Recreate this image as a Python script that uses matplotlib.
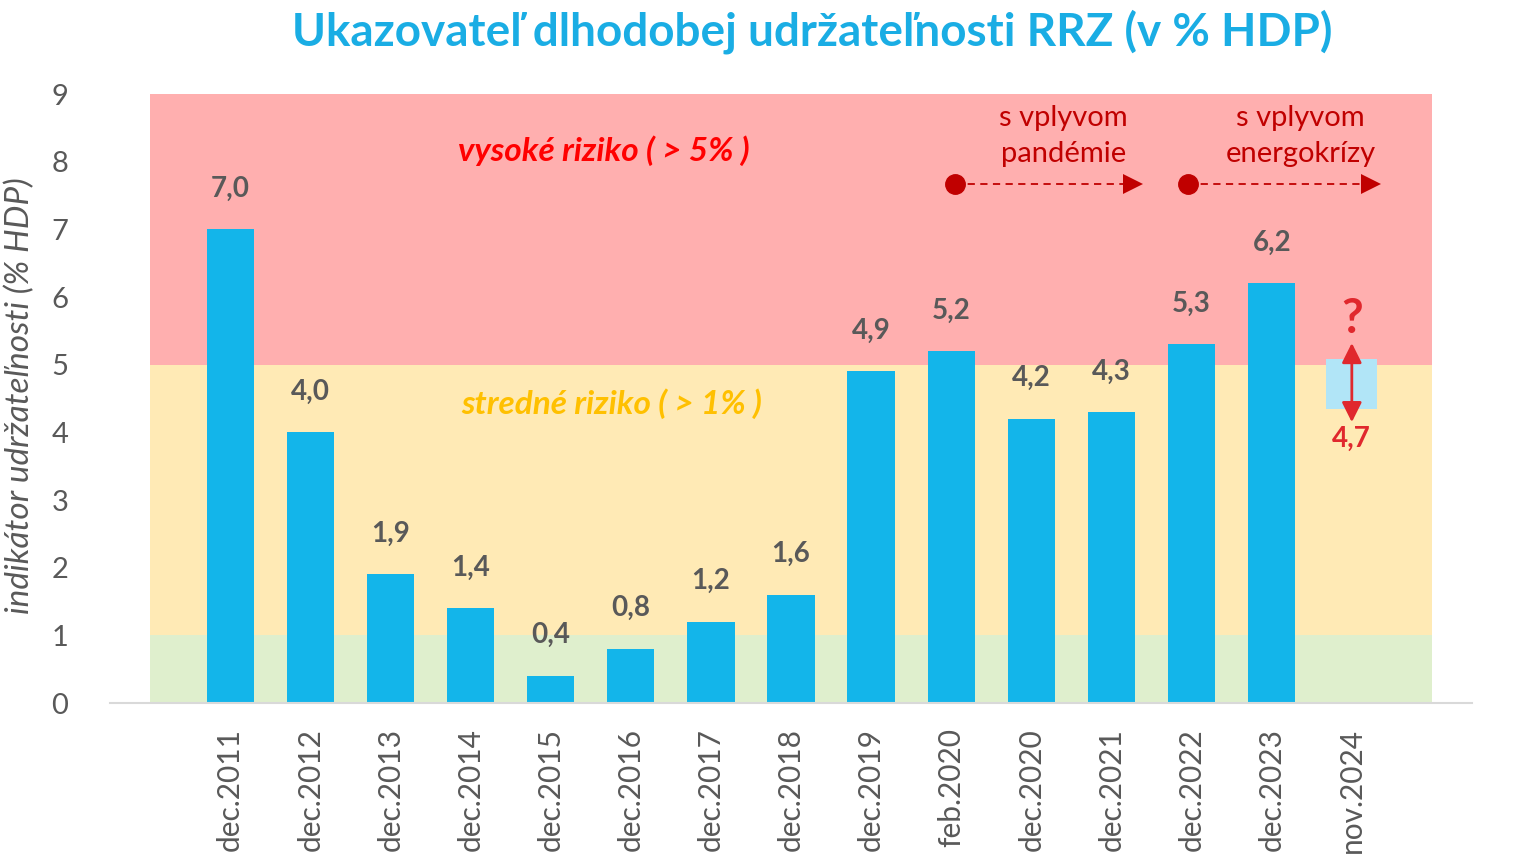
import numpy as np
import matplotlib.pyplot as plt

plt.rcParams['font.family'] = ['Lato', 'DejaVu Sans']

# data
categories = ["dec.2011", "dec.2012", "dec.2013", "dec.2014", "dec.2015", "dec.2016",
              "dec.2017", "dec.2018", "dec.2019", "feb.2020", "dec.2020", "dec.2021",
              "dec.2022", "dec.2023", "nov.2024"]
values = [7.0, 4.0, 1.9, 1.4, 0.4, 0.8, 1.2, 1.6, 4.9, 5.2, 4.2, 4.3, 5.3, 6.2]
value_labels = ["7,0", "4,0", "1,9", "1,4", "0,4", "0,8", "1,2", "1,6", "4,9",
                "5,2", "4,2", "4,3", "5,3", "6,2"]
estimate_range = (4.35, 5.08)   # nov.2024 - range of estimate
estimate_label = "4,7"
bands = [(0, 1, "#dfefcd"), (1, 5, "#ffeab5"), (5, 9, "#ffafaf")]

BAR = "#13b5ea"
GRAY = "#595959"
DARKRED = "#c00000"
RED2 = "#e0282d"

fig = plt.figure(figsize=(15.19, 8.57), dpi=100, facecolor="white")
ax = fig.add_axes([110 / 1519, 1 - 703 / 857, 1362 / 1519, 609 / 857])

x = np.arange(len(categories))
n = len(categories)

# risk bands
for lo, hi, c in bands:
    ax.fill_between([-1, n], lo, hi, color=c, lw=0, zorder=0)

ax.bar(x[:len(values)], values, width=0.59, color=BAR, zorder=2)
for xi, v, lab in zip(x, values, value_labels):
    ax.text(xi, v + 0.6, lab, ha="center", va="center", fontsize=20,
            fontweight="bold", color=GRAY, zorder=3)

# last point: estimate box with double arrow
xl = x[-1]
ax.bar(xl, estimate_range[1] - estimate_range[0], bottom=estimate_range[0],
       width=0.64, color="#b1e5f7", zorder=2)
ax.annotate("", xy=(xl, 4.15), xytext=(xl, 5.32),
            arrowprops=dict(arrowstyle="<|-|>", color=RED2, lw=2,
                            mutation_scale=30, shrinkA=0, shrinkB=0), zorder=4)
ax.text(xl, 5.68, "?", ha="center", va="center", fontsize=34, fontweight="bold",
        color=RED2, zorder=4)
ax.text(xl, 3.9, estimate_label, ha="center", va="center", fontsize=20,
        fontweight="bold", color=RED2, zorder=4)

# band labels
ax.text(4.66, 8.16, "vysoké riziko ( > 5% )", ha="center", va="center",
        fontsize=24, fontweight="bold", fontstyle="italic", color="#ff0000")
ax.text(4.76, 4.42, "stredné riziko ( > 1% )", ha="center", va="center",
        fontsize=24, fontweight="bold", fontstyle="italic", color="#ffc000")

# event annotations: dot, dashed line, solid triangle head
for x0, x1, xt, txt in [(9.05, 11.39, 10.40, "s vplyvom\npandémie"),
                        (11.96, 14.36, 13.36, "s vplyvom\nenergokrízy")]:
    ax.plot([x0, x1 - 0.2], [7.67, 7.67], color=DARKRED, lw=1.3,
            linestyle=(0, (4, 3)), zorder=4)
    ax.plot([x0], [7.67], "o", color=DARKRED, ms=14, zorder=4)
    ax.plot([x1 - 0.125], [7.67], ">", color=DARKRED, ms=15, mew=0, zorder=4)
    ax.text(xt, 8.38, txt, ha="center", va="center", fontsize=21,
            color=DARKRED, linespacing=1.5)

ax.set_xlim(-1.5, n + 0.5)
ax.set_ylim(0, 9)
ax.set_yticks(range(10))
ax.set_xticks(x)
ax.set_xticklabels(categories, rotation=90, fontsize=21.5, color=GRAY)
ax.tick_params(axis="x", length=0, pad=18)
ax.tick_params(axis="y", length=0, pad=30, labelsize=21, labelcolor=GRAY)
for s in ["top", "left", "right"]:
    ax.spines[s].set_visible(False)
ax.spines["bottom"].set_color("#d9d9d9")
ax.spines["bottom"].set_linewidth(1.5)
ax.set_ylabel("indikátor udržateľnosti (% HDP)", fontsize=24, fontstyle="italic",
              color=GRAY)
ax.yaxis.set_label_coords(-0.055, 0.504)

ax2 = ax.twinx()
ax2.set_ylim(0, 9)
ax2.set_yticks(range(10))
ax2.tick_params(axis="y", length=0, pad=35, labelsize=21, labelcolor=GRAY)
for s in ["top", "left", "right", "bottom"]:
    ax2.spines[s].set_visible(False)

fig.text(812 / 1519, 1 - 32 / 857, "Ukazovateľ dlhodobej udržateľnosti RRZ (v % HDP)",
         ha="center", va="center", fontsize=33, fontweight="bold", color="#1aade4")

fig.savefig("out.png", dpi=100, facecolor="white")
